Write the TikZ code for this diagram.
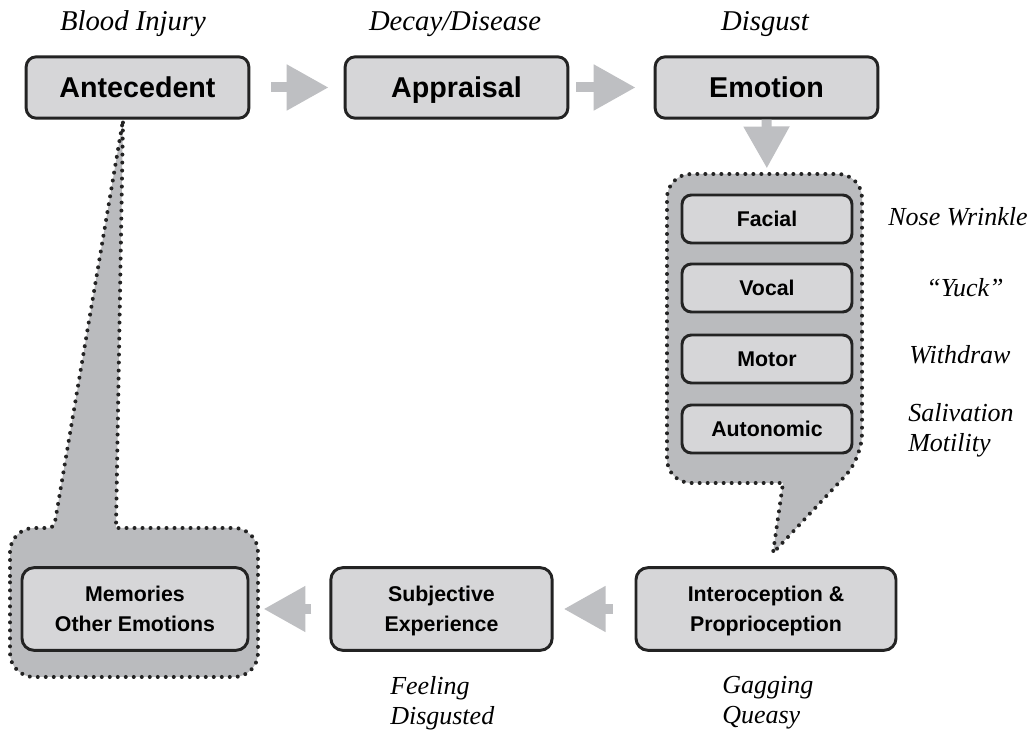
\documentclass[tikz,border=0pt]{standalone}
\usepackage{fontspec}
\setmainfont{Liberation Serif}
\setsansfont{Liberation Sans}
\usetikzlibrary{arrows.meta}
\definecolor{BoxGray}{RGB}{214,214,216}
\definecolor{BubbleGray}{RGB}{186,187,190}
\definecolor{ArrowGray}{RGB}{190,191,194}
\definecolor{EdgeDark}{RGB}{35,35,35}

\tikzset{
  stagebox/.style={draw=EdgeDark, line width=2.2pt, fill=BoxGray, rounded corners=7.5pt,
    minimum width=167pt, minimum height=46pt, inner sep=0pt,
    text height=18pt, text depth=2.5pt,
    font=\sffamily\bfseries\fontsize{21.5}{24}\selectfont},
  subbox/.style={draw=EdgeDark, line width=2.2pt, fill=BoxGray, rounded corners=7pt,
    minimum width=127.5pt, minimum height=36pt, inner sep=0pt,
    font=\sffamily\bfseries\fontsize{16}{20}\selectfont},
  lowbox/.style={draw=EdgeDark, line width=2.2pt, fill=BoxGray, rounded corners=9pt,
    minimum height=62pt, inner sep=0pt, align=center, text depth=0.5pt,
    font=\sffamily\bfseries\fontsize{16}{22.5}\selectfont},
  note/.style={inner sep=0pt, align=left, font=\itshape\fontsize{19.5}{22.5}\selectfont},
  topnote/.style={inner sep=0pt, font=\itshape\fontsize{21.5}{24}\selectfont},
  bubble/.style={fill=BubbleGray, draw=EdgeDark, line width=3pt,
    dash pattern=on 0pt off 6pt, line cap=round, rounded corners=18pt},
  flow/.style={ArrowGray, line width=7.5pt, -{Triangle[length=31.5pt,width=32.5pt]}},
}

\begin{document}
\begin{tikzpicture}[x=0.75pt, y=-0.75pt]
\useasboundingbox (0,0) rectangle (1033,730);

% speech bubbles behind the boxes
\filldraw[bubble] (10,600) -- (10,528) [rounded corners=4pt] -- (54,528) [sharp corners] -- (123,120)
  -- (116,528) [rounded corners=18pt] -- (258,528) -- (258,677) -- (10,677) -- cycle;
\filldraw[bubble] (667,330) -- (667,174) -- (862,174) -- (862,458)
  [sharp corners] -- (773,553) -- (783,483) [rounded corners=18pt] -- (667,483) -- cycle;

% main sequence
\node[stagebox] (ante) at (137.5,87.5) {Antecedent};
\node[stagebox] (appr) at (456.5,87.5) {Appraisal};
\node[stagebox] (emo) at (766.5,87.5) {Emotion};

\node[topnote] (blood) at (133,24) {Blood Injury};
\node[topnote] (decay) at (455,24) {Decay/Disease};
\node[topnote] (disgust) at (765,24) {Disgust};

% response channels
\node[subbox] (facial) at (767,219) {Facial};
\node[subbox] (vocal) at (767,288) {Vocal};
\node[subbox] (motor) at (767,359) {Motor};
\node[subbox] (auto) at (767,429) {Autonomic};

\node[note] (nose) at (958,217) {Nose Wrinkle};
\node[note] (yuck) at (965,288) {“Yuck”};
\node[note] (withdraw) at (960,355) {Withdraw};
\node[note, anchor=west] (saliv) at (908,430) {Salivation\\Motility};

% feedback row
\node[lowbox, minimum width=169.5pt] (mem) at (135,609) {Memories\\Other Emotions};
\node[lowbox, minimum width=166pt] (subj) at (441.5,609) {Subjective\\Experience};
\node[lowbox, minimum width=195pt] (inter) at (766,609) {Interoception \&\\Proprioception};

\node[note, anchor=west] (feel) at (390,703) {Feeling\\Disgusted};
\node[note, anchor=west] (gag) at (722,703) {Gagging\\Queasy};

% arrows
\draw[flow, shorten <=15.75pt, shorten >=11.25pt] (ante.east) -- (appr.west);
\draw[flow, shorten <=5.25pt, shorten >=13.5pt] (appr.east) -- (emo.west);
\draw[flow, shorten >=18.75pt] (emo.south) -- (facial.north);
\draw[flow, shorten <=16.5pt, shorten >=7.5pt] (inter.west) -- (subj.east);
\draw[flow, shorten <=13.5pt, shorten >=10.5pt] (subj.west) -- (mem.east);
\end{tikzpicture}
\end{document}
